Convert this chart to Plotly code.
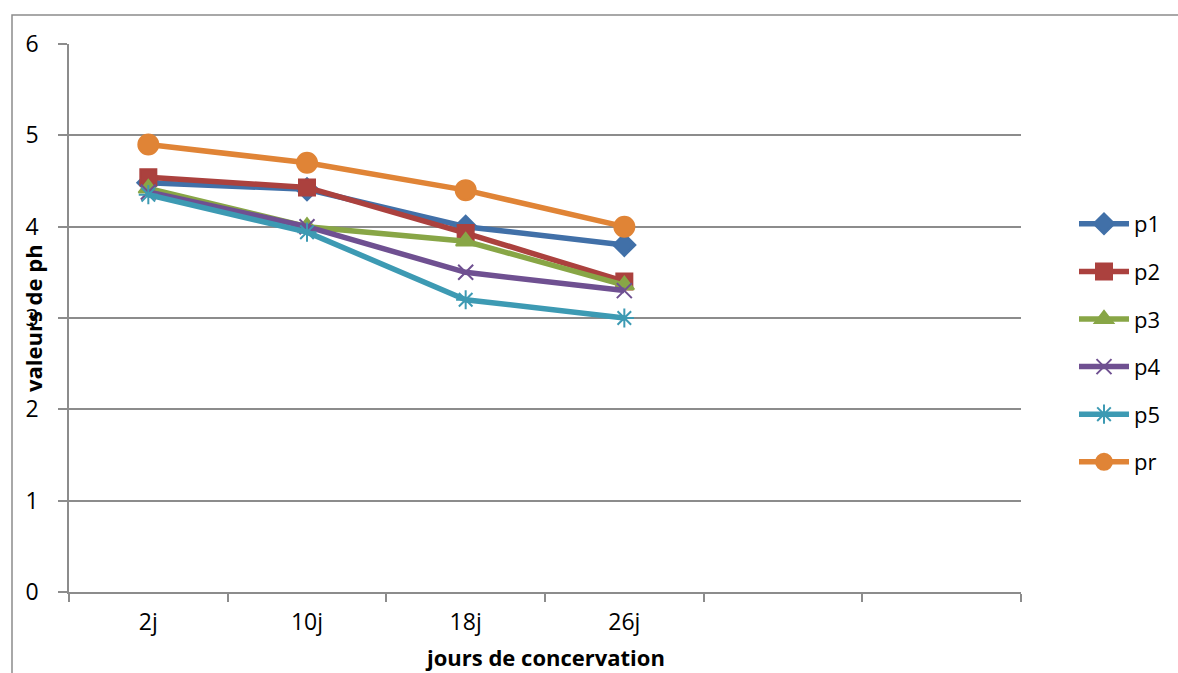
import plotly.graph_objects as go

# pH values over storage time for each sample
jours = ["2j", "10j", "18j", "26j"]
p1 = [4.48, 4.41, 4.00, 3.80]
p2 = [4.54, 4.43, 3.93, 3.40]
p3 = [4.42, 4.00, 3.84, 3.36]
p4 = [4.38, 4.00, 3.50, 3.30]
p5 = [4.35, 3.94, 3.20, 3.00]
pr = [4.90, 4.70, 4.40, 4.00]

series = [
    ("p1", p1, "#4170a8", "diamond", 17),
    ("p2", p2, "#ab413e", "square", 16),
    ("p3", p3, "#88a646", "triangle-up", 17),
    ("p4", p4, "#6f5091", "x-thin-open", 15),
    ("p5", p5, "#3d9ab3", "asterisk-open", 16),
    ("pr", pr, "#e08436", "circle", 20),
]

xpos = list(range(len(jours)))
fig = go.Figure()
for name, vals, color, sym, size in series:
    fig.add_trace(go.Scatter(
        x=xpos, y=vals, name=name, mode="lines+markers",
        legendgroup=name,
        line=dict(color=color, width=5.5),
        marker=dict(symbol=sym, size=size, color=color,
                    line=dict(color=color, width=2)),
    ))

grid = "#8c8c8c"
W, H = 1178, 673
L, R, T, B = 69, 157, 44, 81
pw, ph = W - L - R, H - T - B

def px(x):
    return (x - L) / pw

def py(y):
    return (H - B - y) / ph

fig.update_layout(
    width=W, height=H,
    margin=dict(l=L, r=R, t=T, b=B),
    paper_bgcolor="white", plot_bgcolor="white",
    font=dict(family="Open Sans, sans-serif", size=22, color="#000000"),
    showlegend=True,
    legend=dict(x=px(1074), y=py(203), xanchor="left", yanchor="top",
                tracegroupgap=16, font=dict(size=22), itemwidth=50,
                bgcolor="rgba(0,0,0,0)"),
    xaxis=dict(
        range=[-0.5, 5.5], tickmode="array", tickvals=xpos, ticktext=jours,
        ticks="", showgrid=False, zeroline=False,
        showline=True, linecolor=grid, linewidth=1.5,
        ticklabelstandoff=9, tickfont=dict(size=23),
        minor=dict(tickmode="array", tickvals=[-0.5 + k for k in range(7)],
                   ticks="outside", ticklen=8, tickcolor=grid, tickwidth=1.5,
                   showgrid=False),
    ),
    yaxis=dict(
        range=[0, 6], dtick=1, tick0=0, ticks="outside", ticklen=9,
        tickcolor=grid, tickwidth=1.5, showgrid=True, gridcolor=grid,
        gridwidth=1.5, zeroline=False, showline=True, linecolor=grid,
        linewidth=1.5, ticklabelstandoff=15, tickfont=dict(size=23),
    ),
    annotations=[
        dict(text="<b>jours de concervation</b>", xref="paper", yref="paper",
             x=0.5, y=py(657), xanchor="center", yanchor="middle",
             showarrow=False, font=dict(size=22)),
        dict(text="<b>valeurs de ph</b>", xref="paper", yref="paper",
             x=px(33), y=0.5, xanchor="center", yanchor="middle",
             textangle=-90, showarrow=False, font=dict(size=22)),
    ],
    shapes=[
        dict(type="rect", xref="paper", yref="paper",
             x0=px(12), x1=px(1190), y0=py(690), y1=py(15),
             line=dict(color=grid, width=1.5), layer="below"),
    ],
)

fig.write_html("out.html")
